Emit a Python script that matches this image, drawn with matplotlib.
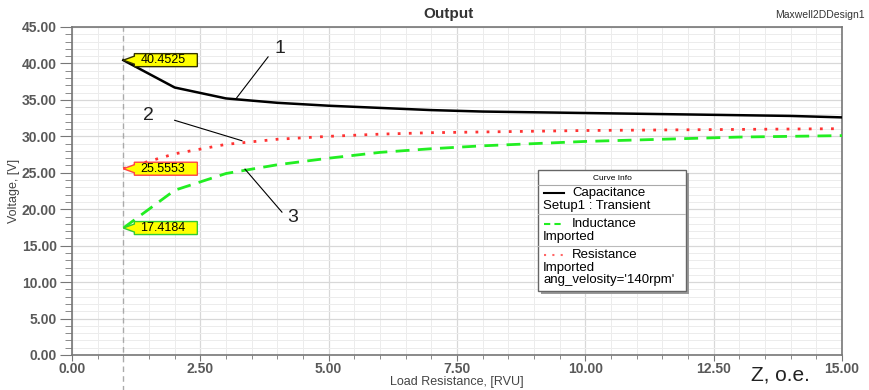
import matplotlib
matplotlib.use('Agg')
import matplotlib.pyplot as plt
from matplotlib.ticker import MultipleLocator
from matplotlib.patches import Polygon, Rectangle
from matplotlib.transforms import ScaledTranslation

plt.rcParams['font.family'] = ['Liberation Sans', 'DejaVu Sans']

# data
load = [1, 2, 3, 4, 5, 6, 7, 8, 9, 10, 11, 12, 13, 14, 15]
capacitance = [40.45, 36.7, 35.2, 34.6, 34.2, 33.9, 33.6, 33.4, 33.3, 33.2, 33.1, 33.0, 32.9, 32.8, 32.6]
resistance = [25.56, 27.6, 28.9, 29.6, 30.0, 30.3, 30.5, 30.6, 30.7, 30.8, 30.85, 30.9, 30.95, 31.0, 31.05]
inductance = [17.42, 22.6, 24.9, 26.1, 27.0, 27.8, 28.3, 28.7, 29.0, 29.3, 29.5, 29.7, 29.9, 30.0, 30.1]
marker_vals = [40.4525, 25.5553, 17.4184]

W, H = 869, 390
fig = plt.figure(figsize=(W / 100, H / 100), dpi=100)
ax = fig.add_axes([72 / W, 1 - 355 / H, 770 / W, 328 / H])

ax.plot(load, capacitance, color='black', lw=1.8, zorder=3)
ax.plot(load, inductance, color='#22ee22', lw=2.0, ls=(0, (5, 3)), zorder=3)
ax.plot(load, resistance, color='#ff3333', lw=2.0, ls=(0, (1, 3)), zorder=3)
ax.axvline(1, ymin=-0.12, ymax=1, color='#aaaaaa', lw=1, ls=(0, (4, 3)), clip_on=False)

ax.set_xlim(0, 15)
ax.set_ylim(0, 45)
ax.xaxis.set_major_locator(MultipleLocator(2.5))
ax.xaxis.set_minor_locator(MultipleLocator(0.5))
ax.yaxis.set_major_locator(MultipleLocator(5))
ax.yaxis.set_minor_locator(MultipleLocator(1))
ax.xaxis.set_major_formatter(lambda v, p: '%.2f' % v)
ax.yaxis.set_major_formatter(lambda v, p: '%.2f' % v)
ax.grid(which='major', color='#d8d8d8', lw=0.9)
ax.grid(which='minor', color='#ececec', lw=0.7)
ax.set_axisbelow(True)
for s in ax.spines.values():
    s.set_color('#777777')
    s.set_linewidth(1.2)
ax.tick_params(which='both', colors='#777777', labelcolor='#595959', labelsize=10)
ax.tick_params(axis='y', which='major', length=9, pad=2)
ax.tick_params(axis='y', which='minor', length=5)
ax.tick_params(axis='x', which='major', length=4, pad=1)
ax.tick_params(axis='x', which='minor', length=3)
for lbl in ax.get_xticklabels() + ax.get_yticklabels():
    lbl.set_fontweight('bold')

fig.text(448 / W, 1 - 14 / H, 'Output', fontsize=11, fontweight='bold', color='#333333', ha='center', va='center')
fig.text(0.995, 1 - 15 / H, 'Maxwell2DDesign1', ha='right', va='center', fontsize=7.5, color='#333333')
fig.text(457 / W, 1 - 382 / H, 'Load Resistance, [RVU]', fontsize=9, color='#444444', ha='center', va='center')
ax.set_ylabel('Voltage, [V]', fontsize=9, color='#444444', labelpad=1)
fig.text(780 / W, 1 - 375 / H, 'Z, o.e.', fontsize=15, color='#222222', ha='center', va='center')

# value flags at x = 1 (shape in pixels relative to the data point)
edge_cols = ['#333300', '#ff4444', '#33cc33']
flag = [(0, 0), (11, 4), (11, 6.5), (74, 6.5), (74, -6.5), (11, -6.5), (11, -4)]
for v, ec in zip(marker_vals, edge_cols):
    tr = fig.dpi_scale_trans + ScaledTranslation(1, v, ax.transData)
    ax.add_patch(Polygon([(px / 100, py / 100) for px, py in flag], closed=True, transform=tr,
                         fc='#ffff00', ec=ec, lw=1, zorder=5))
    ax.text(17 / 100, 0, '%.4f' % v, transform=tr, fontsize=9, va='center', ha='left', zorder=6)

# cut-off flag under the x axis
ax.add_patch(Rectangle((100 / W, 0), 47 / W, 5 / H, transform=fig.transFigure, fc='#eeeecc',
                       ec='#bbbbbb', lw=0.8))

# numbered callouts
calls = [('1', (3.21, 35.3), (3.82, 40.9), (4.05, 42.1)),
         ('2', (3.31, 29.4), (2.0, 32.2), (1.48, 32.8)),
         ('3', (3.37, 25.5), (4.09, 19.6), (4.3, 18.8))]
for txt, xy, start, tpos in calls:
    ax.plot([xy[0], start[0]], [xy[1], start[1]], color='black', lw=0.8, zorder=4)
    ax.text(tpos[0], tpos[1], txt, fontsize=14, color='#222222', ha='center', va='center')

# legend box "Curve Info", drawn in its own pixel-unit axes
lg = fig.add_axes([538 / W, 1 - 291 / H, 148 / W, 121 / H])
lg.set_xlim(0, 148)
lg.set_ylim(121, 0)
lg.axis('off')
lg.add_patch(Rectangle((3, 3), 148, 121, fc='#999999', ec='none', clip_on=False))
lg.add_patch(Rectangle((0, 0), 148, 121, fc='white', ec='#666666', lw=1, clip_on=False))
lg.text(74, 8, 'Curve Info', fontsize=6, ha='center', va='center')
lg.plot([0, 148], [15, 15], color='#aaaaaa', lw=0.8)
rows = [('Capacitance', 'Setup1 : Transient', 'black', '-', 23),
        ('Inductance', 'Imported', '#22ee22', (0, (3, 2)), 54),
        ('Resistance', "Imported\nang_velosity='140rpm'", '#ff6666', (0, (1, 3)), 85)]
for name, sub, col, ls, y in rows:
    lg.plot([6, 26], [y, y], color=col, ls=ls, lw=1.5)
    lg.text(34, y, name, fontsize=9.5, va='center')
    lg.text(5, y + 7, sub, fontsize=9.5, va='top', linespacing=1.0)
for y in (44, 76):
    lg.plot([0, 148], [y, y], color='#bbbbbb', lw=0.8)

fig.savefig('out.png', dpi=100)
